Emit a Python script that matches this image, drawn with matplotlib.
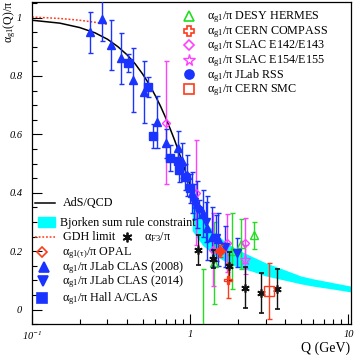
import numpy as np
import matplotlib
matplotlib.use("Agg")
import matplotlib.pyplot as plt
from matplotlib.patches import Rectangle
from matplotlib.ticker import FixedLocator, MultipleLocator, NullFormatter

plt.rcParams["font.family"] = ["Liberation Serif", "DejaVu Serif"]
plt.rcParams["mathtext.fontset"] = "custom"
plt.rcParams["mathtext.rm"] = "Liberation Serif"
plt.rcParams["mathtext.it"] = "Liberation Serif:italic"

# --- curves ---
ads_q = [0.10, 0.15, 0.20, 0.25, 0.30, 0.35, 0.40, 0.45, 0.50, 0.55, 0.60, 0.65,
         0.70, 0.75, 0.80, 0.85, 0.90, 0.95, 1.00, 1.05, 1.10]
ads_v = [0.991, 0.981, 0.966, 0.948, 0.926, 0.900, 0.872, 0.841, 0.807, 0.772, 0.734, 0.696,
         0.657, 0.617, 0.578, 0.538, 0.499, 0.461, 0.424, 0.389, 0.354]
gdh_q = [0.10, 0.15, 0.20, 0.25, 0.30]
gdh_v = [1.002, 0.997, 0.991, 0.984, 0.977]
bj_q = [1.03, 1.2, 1.4, 1.6, 1.8, 2.0, 2.5, 3.0, 4.0, 5.0, 6.0, 8.0, 10.4]
bj_hi = [0.37, 0.31, 0.27, 0.24, 0.22, 0.205, 0.18, 0.16, 0.135, 0.115, 0.105, 0.092, 0.080]
bj_lo = [0.27, 0.22, 0.19, 0.17, 0.155, 0.145, 0.13, 0.115, 0.10, 0.088, 0.080, 0.070, 0.060]

# --- data points: Q (GeV), value, error ---
clas08_q = [0.233, 0.277, 0.316, 0.366, 0.436, 0.510, 0.618, 0.705, 0.840, 0.890, 0.950,
            1.03, 1.10, 1.20, 1.28, 1.38, 1.50]
clas08_v = [0.950, 0.995, 0.906, 0.860, 0.786, 0.745, 0.643, 0.570, 0.553, 0.510, 0.460,
            0.400, 0.360, 0.330, 0.280, 0.250, 0.240]
clas08_e = [0.070, 0.075, 0.085, 0.088, 0.110, 0.105, 0.090, 0.050, 0.060, 0.060, 0.070,
            0.070, 0.080, 0.080, 0.110, 0.100, 0.090]
clas14_q = [1.05, 1.25, 1.45, 1.65, 1.98]
clas14_v = [0.370, 0.300, 0.245, 0.215, 0.194]
clas14_e = [0.060, 0.070, 0.080, 0.070, 0.050]
halla_q = [0.405, 0.543, 0.583, 0.747, 0.840, 0.850, 0.930, 1.000]
halla_v = [0.845, 0.762, 0.594, 0.520, 0.510, 0.478, 0.455, 0.415]
halla_e = [0.030, 0.035, 0.040, 0.045, 0.040, 0.040, 0.045, 0.050]
rss_q = [1.13]
rss_v = [0.345]
rss_e = [0.030]
e143_q = [0.705, 1.09, 1.40, 1.72, 2.23]
e143_v = [0.640, 0.400, 0.204, 0.228, 0.228]
e143_e = [0.210, 0.180, 0.125, 0.100, 0.085]
e155_q = [2.23]
e155_v = [0.170]
e155_e = [0.050]
hermes_q = [1.20, 1.42, 1.84, 2.10, 2.54]
hermes_v = [-0.100, 0.160, 0.200, 0.224, 0.254]
hermes_e = [0.240, 0.140, 0.130, 0.085, 0.045]
compass_q = [1.74]
compass_v = [0.100]
compass_e = [0.060]
opal_q = [1.55]
opal_v = [0.200]
opal_e = [0.020]
smc_q = [3.16]
smc_v = [0.063]
smc_e = [0.095]
f3_q = [1.12, 1.40, 1.77, 2.23, 2.81, 3.55]
f3_v = [0.204, 0.173, 0.148, 0.074, 0.057, 0.070]
f3_e = [0.050, 0.030, 0.050, 0.070, 0.068, 0.068]

BLUE = "#1a33ff"
PINK = "#ff40ff"
GREEN = "#22dd22"
RED = "#ff3a1a"
CYAN = "#00ffff"
STAR = (6, 2, 0)
W = 355.0

fig = plt.figure(figsize=(3.55, 3.55), dpi=100)
ax = fig.add_axes([0.090, 0.087, 0.899, 0.907])
ax.set_xscale("log")
ax.set_xlim(0.1, 10.4)
ax.set_ylim(-0.05, 1.053)

ax.fill_between(bj_q, bj_lo, bj_hi, color=CYAN, lw=0, zorder=1)
ax.plot(ads_q, ads_v, color="black", lw=1.1, zorder=2)
ax.plot(gdh_q, gdh_v, color=RED, lw=1.1, ls=(0, (1.2, 1.2)), zorder=2)


def pts(q, v, e, color, marker, ms=5.5, mfc=None, mew=1.0, z=3):
    ax.errorbar(q, v, yerr=e, fmt="", ls="none", marker=marker, color=color,
                ecolor=color, ms=ms, mfc=color if mfc is None else mfc, mec=color,
                mew=mew, elinewidth=1.0, capsize=1.8, capthick=1.0, zorder=z)


pts(hermes_q, hermes_v, hermes_e, GREEN, "^", mfc="none")
pts(e143_q, e143_v, e143_e, PINK, "D", ms=4, mfc="none")
pts(e155_q, e155_v, e155_e, PINK, "*", ms=7, mfc="none", mew=0.8)
pts(clas08_q, clas08_v, clas08_e, BLUE, "^")
pts(clas14_q, clas14_v, clas14_e, BLUE, "v")
pts(halla_q, halla_v, halla_e, BLUE, "s")
pts(rss_q, rss_v, rss_e, BLUE, "o", ms=5)
pts(f3_q, f3_v, f3_e, "#111111", STAR, ms=6, mew=1.2, z=4)
pts(compass_q, compass_v, compass_e, RED, "P", ms=6, mfc="none", z=4)
pts(opal_q, opal_v, opal_e, RED, "D", ms=5, mfc=RED, z=4)
pts(smc_q, smc_v, smc_e, RED, "s", ms=7, mfc="none", z=4)

# axes styling (ROOT look)
ax.set_xticks([0.1, 1, 10])
ax.set_xticklabels([r"$\mathregular{10^{-1}}$", "1", "10"], fontstyle="italic")
ax.xaxis.set_minor_locator(FixedLocator([m * d for d in (0.1, 1) for m in range(2, 10)]))
ax.xaxis.set_minor_formatter(NullFormatter())
ax.set_yticks([0, 0.2, 0.4, 0.6, 0.8, 1.0])
ax.set_yticklabels(["0", "0.2", "0.4", "0.6", "0.8", "1"], fontstyle="italic")
ax.yaxis.set_minor_locator(MultipleLocator(0.05))
ax.tick_params(which="both", direction="in", labelsize=7.5, width=0.8)
ax.tick_params(which="major", length=7)
ax.tick_params(axis="y", which="major", pad=7)
ax.tick_params(axis="x", which="major", pad=4)
ax.tick_params(which="minor", length=3.5)
for s in ax.spines.values():
    s.set_linewidth(0.9)
fig.text(10 / W, 1 - 1 / W, r"$\mathregular{α_{g1}(Q)/π}$", fontsize=8.5,
         rotation=90, ha="center", va="top")
fig.text(350 / W, 1 - 352 / W, "Q (GeV)", fontsize=10, ha="right", va="baseline")


# hand-placed legends (pixel positions measured from the top-left corner)
def mark(px, py, marker, color, mfc=None, ms=6.5, mew=1.2):
    fig.add_artist(plt.Line2D([px / W], [1 - py / W], ls="none", marker=marker,
                              color=color, ms=ms, mfc=color if mfc is None else mfc,
                              mec=color, mew=mew))


def line(px0, px1, py, **kw):
    fig.add_artist(plt.Line2D([px0 / W, px1 / W], [1 - py / W] * 2, **kw))


def label(px, py, s, size):
    fig.text(px / W, 1 - py / W, s, fontsize=size, ha="left", va="baseline")


G = r"$\mathregular{α_{g1}/π}$"
TS = 8.7
top = [
    ("^", GREEN, "none", 6.5, 1.2, " DESY HERMES"),
    ("P", RED, "none", 6.5, 1.2, " CERN COMPASS"),
    ("D", PINK, "none", 5, 1.2, " SLAC E142/E143"),
    ("*", PINK, "none", 8.5, 1.0, " SLAC E154/E155"),
    ("o", BLUE, None, 6.5, 1.2, " JLab RSS"),
    ("s", RED, "none", 7, 1.2, " CERN SMC"),
]
for i, (m, c, fc, ms, mew, txt) in enumerate(top):
    y = 16 + 14.6 * i
    mark(189, y, m, c, fc, ms, mew)
    label(207, y + 3.5, G + txt, TS)

BS = 8.7
line(35, 55, 203, color="black", lw=1.1)
label(63, 206.5, "AdS/QCD", BS)
fig.add_artist(Rectangle((38 / W, 1 - 227 / W), 17 / W, 10 / W, color=CYAN,
                         transform=fig.transFigure))
label(60, 225.5, "Bjorken sum rule constraint", BS)
line(35, 55, 237, color=RED, lw=1.1, ls=(0, (1.2, 1.2)))
label(63, 240.5, "GDH limit", BS)
mark(127, 237, STAR, "#111111", ms=7, mew=1.3)
label(144, 240.5, r"$\mathregular{α_{F3}/π}$", BS)
mark(42, 252, "D", RED, "none", ms=5.5)
label(62, 255.5, r"$\mathregular{α_{g1(τ)}/π}$ OPAL", BS)
mark(44, 267, "^", BLUE, ms=7)
label(62, 270.5, G + " JLab CLAS (2008)", BS)
mark(43, 281, "v", BLUE, ms=7)
label(62, 284.5, G + " JLab CLAS (2014)", BS)
mark(42, 298, "s", BLUE, ms=6.5)
label(62, 301.5, G + " Hall A/CLAS", BS)

fig.savefig("out.png", dpi=100)
